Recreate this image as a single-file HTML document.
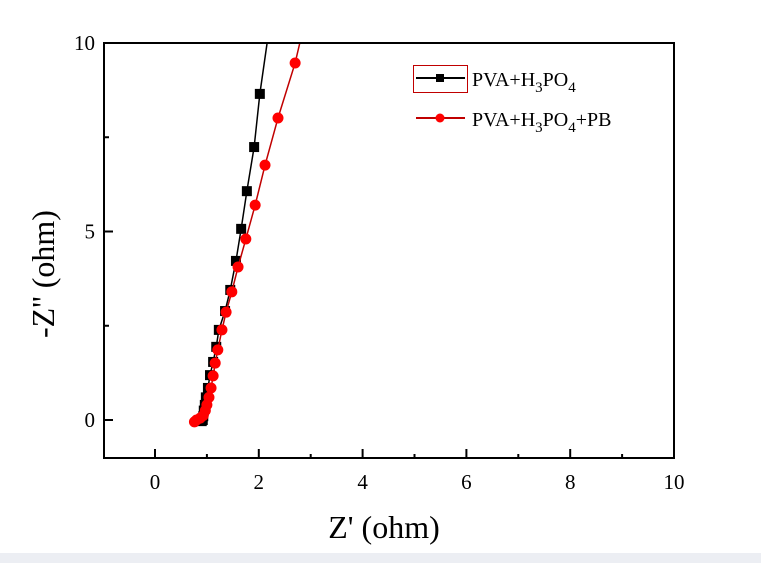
<!DOCTYPE html>
<html><head><meta charset="utf-8"><style>
html,body{margin:0;padding:0;background:#fff;}
svg{display:block;font-family:"Liberation Serif",serif;}
</style></head><body>
<svg width="761" height="563" viewBox="0 0 761 563">
<rect x="0" y="553" width="761" height="10" fill="#eceef3"/>
<g id="plot"></g>
<rect x="104" y="43" width="570" height="415" fill="none" stroke="#000" stroke-width="2"/>
<g id="xt"></g>
<g id="yt"></g>
<text x="384" y="538" font-size="32" text-anchor="middle">Z' (ohm)</text>
<text transform="translate(54,274) rotate(-90)" font-size="32" text-anchor="middle">-Z'' (ohm)</text>
<g>
<rect x="413.5" y="65.5" width="54" height="27" fill="none" stroke="#c00000" stroke-width="1"/>
<line x1="416" y1="78" x2="465" y2="78" stroke="#000" stroke-width="2"/>
<rect x="436" y="74" width="8" height="8" fill="#000"/>
<text x="472" y="86" font-size="20">PVA+H<tspan font-size="15" dy="6">3</tspan><tspan dy="-6">PO</tspan><tspan font-size="15" dy="6">4</tspan></text>
<line x1="416" y1="118" x2="465" y2="118" stroke="#c00000" stroke-width="2"/>
<circle cx="440" cy="118" r="4.5" fill="#f00"/>
<text x="472" y="126" font-size="20">PVA+H<tspan font-size="15" dy="6">3</tspan><tspan dy="-6">PO</tspan><tspan font-size="15" dy="6">4</tspan><tspan dy="-6">+PB</tspan></text>
</g>
</svg>
<script>
const xTicks=[0,2,4,6,8,10];
const yTicks=[0,5,10];
const blackX=[0.90,0.92,0.93,0.94,0.96,0.98,1.02,1.06,1.12,1.18,1.23,1.35,1.45,1.56,1.66,1.77,1.91,2.02];
const blackY=[-0.03,0.0,0.1,0.25,0.4,0.6,0.85,1.19,1.54,1.94,2.39,2.89,3.45,4.22,5.07,6.07,7.24,8.65];
const redX=[0.76,0.80,0.87,0.93,0.97,1.00,1.04,1.08,1.12,1.16,1.21,1.29,1.37,1.48,1.60,1.75,1.93,2.12,2.37,2.70];
const redY=[-0.05,0.0,0.05,0.12,0.25,0.4,0.6,0.85,1.17,1.51,1.86,2.39,2.86,3.40,4.06,4.80,5.70,6.76,8.01,9.47];
const blackEnd=[2.16,10];
const redEnd=[2.79,10];
const NS='http://www.w3.org/2000/svg';
const sx=v=>155+v*51.9;
const sy=v=>420-v*37.7;
function mk(tag,attrs,parent){const e=document.createElementNS(NS,tag);for(const k in attrs)e.setAttribute(k,attrs[k]);parent.appendChild(e);return e;}
const xt=document.getElementById('xt'),yt=document.getElementById('yt'),plot=document.getElementById('plot');
for(let v=0;v<=10;v++){const major=v%2===0;
 const t=mk('line',{x1:sx(v),x2:sx(v),y1:458,y2:major?449:454,stroke:'#000','stroke-width':2},xt);
 
 }
xTicks.forEach(v=>{const t=mk('text',{x:sx(v),y:489,'font-size':21,'text-anchor':'middle'},xt);t.textContent=v;
 
 });
for(let v=0;v<=10;v+=2.5){const major=v%5===0;
 const t=mk('line',{x1:104,x2:major?113:109,y1:sy(v),y2:sy(v),stroke:'#000','stroke-width':2},yt);
 
 }
yTicks.forEach(v=>{const t=mk('text',{x:95,y:sy(v)+7,'font-size':21,'text-anchor':'end'},yt);t.textContent=v;
 
 });
function series(xs,ys,end,color,lineColor,marker,name){
 const g=mk('g',{},plot);
 
 
 const pts=xs.map((x,i)=>sx(x)+','+sy(ys[i]));pts.push(sx(end[0])+','+sy(end[1]));
 const l=mk('polyline',{points:pts.join(' '),fill:'none',stroke:lineColor,'stroke-width':1.5},g);
 
 
 xs.forEach((x,i)=>{let m;
  if(marker==='sq')m=mk('rect',{x:sx(x)-5,y:sy(ys[i])-5,width:10,height:10,fill:color},g);
  else m=mk('circle',{cx:sx(x),cy:sy(ys[i]),r:5.5,fill:color},g);
  
  });
}
series(blackX,blackY,blackEnd,'#000','#000','sq','series-pva-h3po4');
series(redX,redY,redEnd,'#f00','#c00000','ci','series-pva-h3po4-pb');
</script>
</body></html>
